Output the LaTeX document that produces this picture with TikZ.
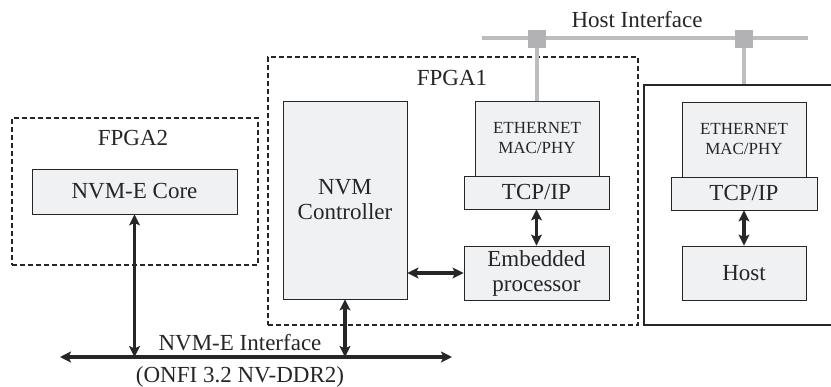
\documentclass[tikz,border=0pt]{standalone}
\usepackage{fontspec}
\setmainfont{Liberation Serif}
\usetikzlibrary{arrows.meta}
\definecolor{boxfill}{HTML}{F0F1F3}
\definecolor{ink}{HTML}{262626}
\definecolor{busgray}{HTML}{BDBDBF}
\definecolor{tapgray}{HTML}{B2B2B4}

\begin{document}
\begin{tikzpicture}[x=1pt,y=-1pt,
  every node/.style={text=ink},
  block/.style={draw=ink, fill=boxfill, line width=0.9pt, inner sep=0pt,
    align=center, font=\fontsize{23}{25}\selectfont},
  smallblock/.style={block, font=\fontsize{17}{20}\selectfont},
  fpgabox/.style={draw=ink, line width=1.5pt, dash pattern=on 5pt off 3pt, inner sep=0pt},
  label/.style={inner sep=0pt, font=\fontsize{23}{25}\selectfont},
  link/.style={draw=ink, line width=3.3pt,
    {Stealth[length=11pt,width=11pt,inset=2.5pt]}-{Stealth[length=11pt,width=11pt,inset=2.5pt]}},
  hostbus/.style={draw=busgray, line width=4.5pt},
  tap/.style={fill=tapgray, minimum size=18pt, inner sep=0pt}]

\useasboundingbox (0,0) rectangle (831,387);

% FPGA2
\node[fpgabox, minimum width=246pt, minimum height=147pt] (fpga2) at (135,191.5) {};
\node[label] (fpga2lbl) at (133,138) {FPGA2};
\node[block, minimum width=205pt, minimum height=45pt] (core) at (134.5,191.5) {NVM-E Core};

% FPGA1
\node[fpgabox, minimum width=370pt, minimum height=268pt] (fpga1) at (453,191) {};
\node[label] (fpga1lbl) at (452,78) {FPGA1};
\node[block, minimum width=124pt, minimum height=198pt] (ctrl) at (345,200) {NVM\\Controller};
\node[smallblock, minimum width=124pt, minimum height=75pt] (eth1) at (537,138.5) {ETHERNET\\MAC/PHY};
\node[block, minimum width=145pt, minimum height=33pt] (tcp1) at (536.5,192.5) {TCP/IP};
\node[block, minimum width=145pt, minimum height=54pt] (emb) at (536.5,273) {Embedded\\processor};

% Host side
\node[draw=ink, line width=1.8pt, minimum width=201pt, minimum height=240pt, inner sep=0pt] (hostbox) at (744.5,205) {};
\node[smallblock, minimum width=124pt, minimum height=75pt] (eth2) at (744,139.5) {ETHERNET\\MAC/PHY};
\node[block, minimum width=146pt, minimum height=33pt] (tcp2) at (744,193.5) {TCP/IP};
\node[block, minimum width=124pt, minimum height=54pt] (host) at (744,273) {Host};

% Host interface bus
\coordinate (hl) at (482,38);
\coordinate (hr) at (808,38);
\draw[hostbus] (hl) -- (hr);
\node[tap] (tap1) at (537,39) {};
\node[tap] (tap2) at (744,39) {};
\draw[hostbus] (tap1) -- (eth1.north);
\draw[hostbus] (tap2) -- (tap2 |- hostbox.north);
\node[label] (hilbl) at (637,20) {Host Interface};

% Internal links
\draw[link] (tcp1.south) -- (emb.north);
\draw[link] (emb.west) -- (ctrl.east |- emb.west);
\draw[link] (tcp2.south) -- (host.north);

% NVM-E interface bus
\coordinate (bl) at (60,357);
\coordinate (br) at (452,357);
\draw[link] (bl) -- (br);
\draw[link] (core.south) -- (core.south |- bl);
\draw[link] (ctrl.south) -- (ctrl.south |- bl);
\node[label] (buslbl) at (240,343) {NVM-E Interface};
\node[label] (onfilbl) at (240,377) {(ONFI 3.2 NV-DDR2)};
\end{tikzpicture}
\end{document}
